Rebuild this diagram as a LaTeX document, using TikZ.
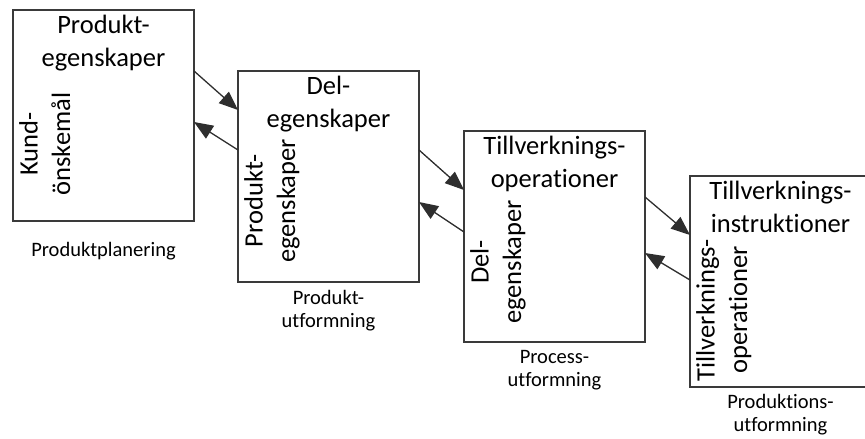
\documentclass[tikz,border=0pt]{standalone}
\usepackage{fontspec}
\newfontfamily\diagfont[Ligatures=NoCommon]{Carlito}
\usetikzlibrary{arrows.meta}
\definecolor{boxgray}{HTML}{3A3A3A}
\definecolor{linegray}{HTML}{2E2E2E}
\begin{document}
\begin{tikzpicture}[x=1pt,y=-1pt,
  stage/.style={draw=boxgray, line width=1.8pt, fill=white,
    minimum width=181pt, minimum height=211pt,
    anchor=north west, inner sep=0pt, outer sep=0pt},
  headtext/.style={anchor=north, align=center, inner sep=0pt,
    font=\diagfont\fontsize{26.5}{32.5}\selectfont},
  sidetext/.style={headtext, rotate=90},
  caption/.style={anchor=north, align=center, inner sep=0pt,
    font=\diagfont\fontsize{20.5}{23.5}\selectfont},
  flow/.style={draw=linegray, line width=1.3pt,
    -{Triangle[length=19pt,width=15pt]}}
]
\path[use as bounding box] (0,0) rectangle (865,439);
\clip (0,0) rectangle (865,439);

% the four design stages
\node[stage] (b1) at (13,10)  {};
\node[stage] (b2) at (238,71) {};
\node[stage] (b3) at (464,131) {};
\node[stage] (b4) at (690,176) {};

% outputs (top) and inputs (rotated, left) of each stage
\node[headtext] (o1) at ([yshift=-5pt]b1.north) {Produkt-\\egenskaper};
\node[sidetext] (i1) at ([xshift=6pt]b1.north west |- 0,144) {Kund-\\önskemål};

\node[headtext] (o2) at ([yshift=-5pt]b2.north) {Del-\\egenskaper};
\node[sidetext] (i2) at ([xshift=6pt]b2.north west |- 0,201) {Produkt-\\egenskaper};

\node[headtext] (o3) at ([yshift=-5pt]b3.north) {Tillverknings-\\operationer};
\node[sidetext] (i3) at ([xshift=6pt]b3.north west |- 0,262) {Del-\\egenskaper};

\node[headtext] (o4) at ([yshift=-5pt]b4.north) {Tillverknings-\\instruktioner};
\node[sidetext] (i4) at ([xshift=6pt]b4.north west |- 0,310) {Tillverknings-\\operationer};

% stage names
\node[caption] (c1) at ([yshift=-21pt]b1.south) {Produktplanering};
\node[caption] (c2) at ([yshift=-8pt]b2.south) {Produkt-\\utformning};
\node[caption] (c3) at ([yshift=-8pt]b3.south) {Process-\\utformning};
\node[caption] (c4) at ([yshift=-7pt]b4.south) {Produktions-\\utformning};

% forward and feedback flows between neighbouring stages
\draw[flow] ([yshift=-61pt]b1.north east) -- ([yshift=-39pt]b2.north west);
\draw[flow] ([yshift=-79pt]b2.north west) -- ([yshift=-112pt]b1.north east);

\draw[flow] ([yshift=-79pt]b2.north east) -- ([yshift=-59pt]b3.north west);
\draw[flow] ([yshift=-101pt]b3.north west) -- ([yshift=-131pt]b2.north east);

\draw[flow] ([yshift=-66pt]b3.north east) -- ([yshift=-59pt]b4.north west);
\draw[flow] ([yshift=-104pt]b4.north west) -- ([yshift=-122pt]b3.north east);
\end{tikzpicture}
\end{document}
